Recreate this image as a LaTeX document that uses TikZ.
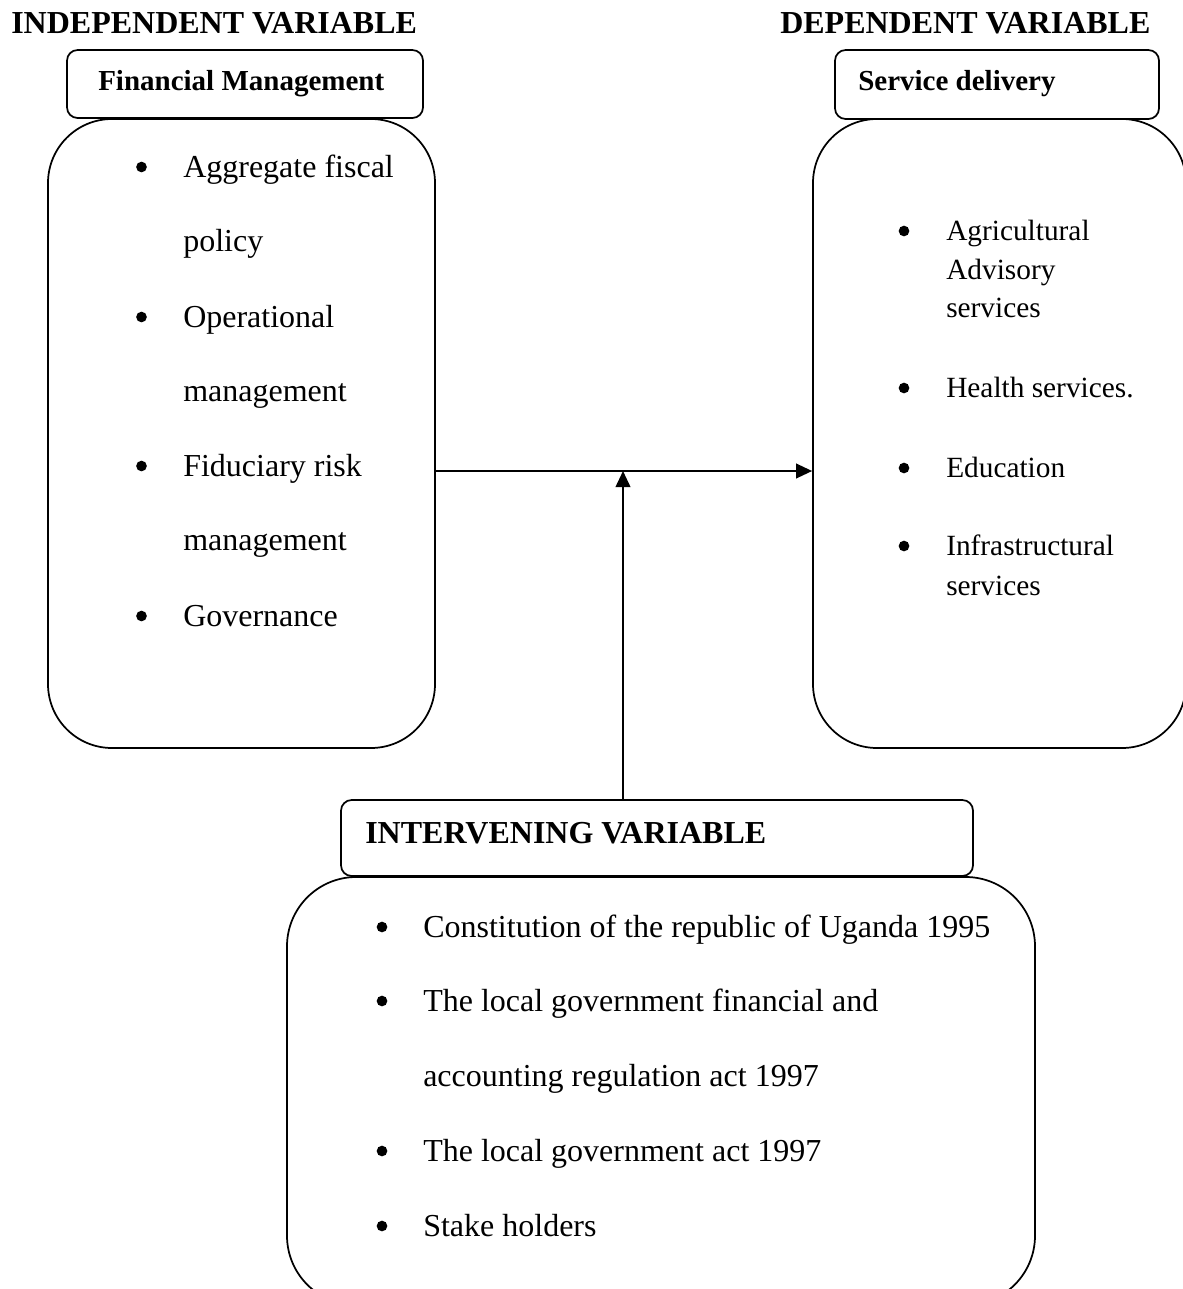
\documentclass[tikz,border=0pt]{standalone}
\usepackage{fontspec}
\setmainfont{Liberation Serif}
\usetikzlibrary{arrows.meta}
\begin{document}
\begin{tikzpicture}[x=0.75pt,y=-0.75pt,
  frame/.style={draw, line width=1.3pt, fill=white, inner sep=0pt},
  headbox/.style={frame, rounded corners=8pt},
  bodybox/.style={frame, rounded corners=48pt},
  conn/.style={line width=1.3pt, -{Triangle[length=12pt,width=11pt]}},
  title/.style={anchor=base west, inner sep=0pt, font=\fontsize{24}{28}\selectfont\bfseries},
  head/.style={anchor=base west, inner sep=0pt, font=\fontsize{21.75}{26}\selectfont\bfseries},
  itemL/.style={anchor=base west, inner sep=0pt, font=\fontsize{24}{28}\selectfont},
  itemR/.style={anchor=base west, inner sep=0pt, font=\fontsize{22}{26}\selectfont},
  dot/.style={circle, fill, inner sep=0pt, minimum size=8pt}]
\useasboundingbox (0,0) rectangle (1182,1289);

% column titles
\node[title] (tind) at (11,33) {INDEPENDENT VARIABLE};
\node[title] (tdep) at (780,33) {DEPENDENT VARIABLE};

% independent variable: body, then heading box on top
\node[bodybox, minimum width=290.25pt, minimum height=471.75pt] (fmbody) at (241.5,433.5) {};
\node[headbox, minimum width=267pt, minimum height=51pt] (fmhead) at (245,84) {};
\node[head] (fmtitle) at (98,90) {Financial Management};

\node[dot] (b1) at (141.5,167) {};
\node[itemL] (i1a) at (183,177) {Aggregate fiscal};
\node[itemL] (i1b) at (183,251) {policy};
\node[dot] (b2) at (141.5,317) {};
\node[itemL] (i2a) at (183,327) {Operational};
\node[itemL] (i2b) at (183,401) {management};
\node[dot] (b3) at (141.5,466) {};
\node[itemL] (i3a) at (183,476) {Fiduciary risk};
\node[itemL] (i3b) at (183,550) {management};
\node[dot] (b4) at (141.5,616) {};
\node[itemL] (i4a) at (183,626) {Governance};

% dependent variable
\node[bodybox, minimum width=279.75pt, minimum height=471.75pt] (sdbody) at (999.5,433.5) {};
\node[headbox, minimum width=243pt, minimum height=51.75pt] (sdhead) at (997,84.5) {};
\node[head] (sdtitle) at (858,90) {Service delivery};

\node[dot] (r1) at (904,231) {};
\node[itemR] (j1a) at (946,240) {Agricultural};
\node[itemR] (j1b) at (946,279) {Advisory};
\node[itemR] (j1c) at (946,317) {services};
\node[dot] (r2) at (904,388) {};
\node[itemR] (j2a) at (946,397) {Health services.};
\node[dot] (r3) at (904,468) {};
\node[itemR] (j3a) at (946,477) {Education};
\node[dot] (r4) at (904,546) {};
\node[itemR] (j4a) at (946,555) {Infrastructural};
\node[itemR] (j4b) at (946,595) {services};

% intervening variable
\node[frame, rounded corners=52pt, minimum width=561pt, minimum height=321pt] (ivbody) at (661,1091) {};
\node[headbox, minimum width=474pt, minimum height=57pt] (ivhead) at (657,838) {};
\node[title] (ivtitle) at (365,843) {INTERVENING VARIABLE};

\node[dot] (c1) at (382,927) {};
\node[itemL] (k1a) at (423,937) {Constitution of the republic of Uganda 1995};
\node[dot] (c2) at (382,1001) {};
\node[itemL] (k2a) at (423,1011) {The local government financial and};
\node[itemL] (k2b) at (423,1086) {accounting regulation act 1997};
\node[dot] (c3) at (382,1151) {};
\node[itemL] (k3a) at (423,1161) {The local government act 1997};
\node[dot] (c4) at (382,1226) {};
\node[itemL] (k4a) at (423,1236) {Stake holders};

% connectors
\coordinate (mid) at (623,471);
\draw[conn] (fmbody.east |- mid) -- (sdbody.west |- mid);
\draw[conn] (ivhead.north -| mid) -- (mid);
\end{tikzpicture}
\end{document}
